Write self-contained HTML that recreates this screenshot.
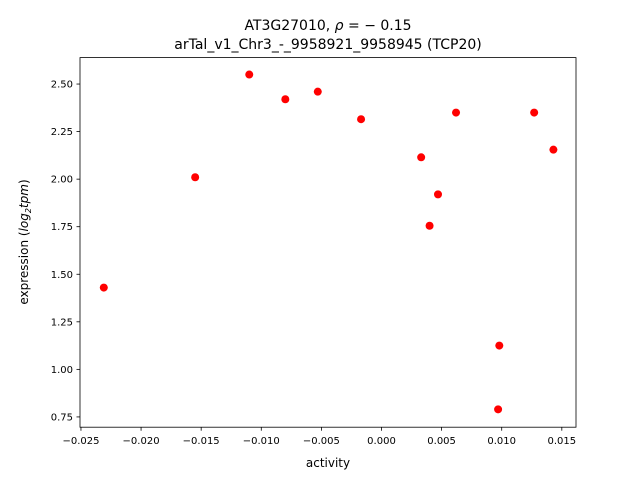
<!DOCTYPE html>
<html><head><meta charset="utf-8"><style>
body{margin:0;background:#fff;font-family:"DejaVu Sans","Liberation Sans",sans-serif;}
svg text{font-family:"DejaVu Sans","Liberation Sans",sans-serif;}
</style></head><body>
<svg id="chart" width="640" height="480" xmlns="http://www.w3.org/2000/svg">
<rect width="640" height="480" fill="#fff"/>
<text x="328" y="30" font-size="14" text-anchor="middle">AT3G27010, <tspan font-style="italic">ρ</tspan> = − 0.15</text>
<text x="328" y="49" font-size="14" text-anchor="middle">arTal_v1_Chr3_-_9958921_9958945 (TCP20)</text>
<g id="plot"></g>
<text x="328" y="467" font-size="12" text-anchor="middle">activity</text>
<text transform="translate(28,242) rotate(-90)" font-size="12" text-anchor="middle">expression (<tspan font-style="italic">log</tspan><tspan font-size="8" dy="3" font-style="italic">2</tspan><tspan dy="-3" font-style="italic">tpm</tspan>)</text>
</svg>
<script>
const xValues=[-0.0231,-0.0155,-0.011,-0.008,-0.0053,-0.0017,0.0033,0.0040,0.0047,0.0062,0.0097,0.0098,0.0127,0.0143];
const yValues=[1.43,2.01,2.55,2.42,2.46,2.315,2.115,1.755,1.92,2.35,0.79,1.125,2.35,2.155];
const xTicks=[-0.025,-0.020,-0.015,-0.010,-0.005,0.000,0.005,0.010,0.015];
const xTickLabels=["−0.025","−0.020","−0.015","−0.010","−0.005","0.000","0.005","0.010","0.015"];
const yTicks=[0.75,1.00,1.25,1.50,1.75,2.00,2.25,2.50];
const yTickLabels=["0.75","1.00","1.25","1.50","1.75","2.00","2.25","2.50"];
const L=80,R=576,T=57.6,B=427.2;
const xMin=-0.02508,xMax=0.01618,yMin=0.696,yMax=2.639;
const sx=v=>L+(v-xMin)/(xMax-xMin)*(R-L);
const sy=v=>B-(v-yMin)/(yMax-yMin)*(B-T);
const NS="http://www.w3.org/2000/svg";
const g=document.getElementById('plot');
function mk(tag,attrs){const e=document.createElementNS(NS,tag);for(const k in attrs)e.setAttribute(k,attrs[k]);g.appendChild(e);return e;}
xValues.forEach((x,i)=>{
  const c=mk('circle',{cx:sx(x),cy:sy(yValues[i]),r:4,fill:'#ff0000'});
  
  
});
xTicks.forEach((t,i)=>{
  const x=sx(t);
  const l=mk('line',{x1:x,x2:x,y1:B,y2:B+3.5,stroke:'#000','stroke-width':0.8});
  
  
  const tx=mk('text',{x:x,y:B+17,'font-size':10,'text-anchor':'middle'});
  tx.textContent=xTickLabels[i];
  
  
});
yTicks.forEach((t,i)=>{
  const y=sy(t);
  const l=mk('line',{x1:L-3.5,x2:L,y1:y,y2:y,stroke:'#000','stroke-width':0.8});
  
  
  const tx=mk('text',{x:L-7,y:y+3.5,'font-size':10,'text-anchor':'end'});
  tx.textContent=yTickLabels[i];
  
  
});
const fr=mk('rect',{x:L,y:T,width:R-L,height:B-T,fill:'none',stroke:'#000','stroke-width':0.8});


</script>
</body></html>
